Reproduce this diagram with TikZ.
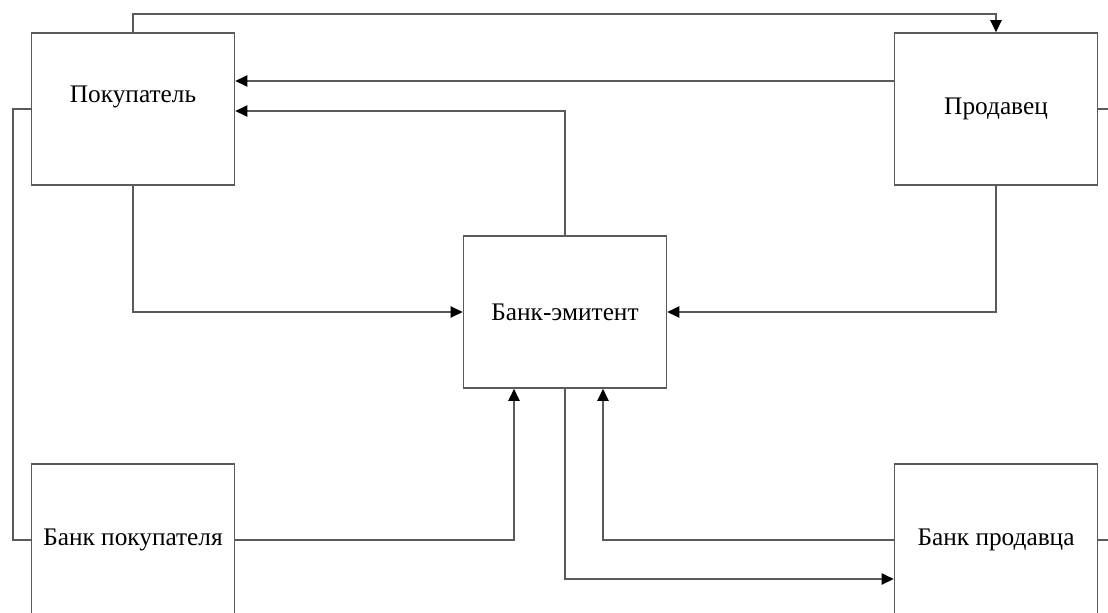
\documentclass[tikz,border=0pt]{standalone}
\usepackage{fontspec}
\setmainfont{Liberation Serif}
\usetikzlibrary{arrows.meta}
\definecolor{linegray}{RGB}{90,90,90}

\begin{document}
\begin{tikzpicture}[x=0.025cm,y=-0.025cm,
  box/.style={draw=linegray,line width=1.1pt,minimum width=5.075cm,minimum height=3.8cm,inner sep=0pt,font=\fontsize{18}{21}\selectfont},
  txt/.style={inner sep=0pt,font=\fontsize{18}{21}\selectfont},
  link/.style={draw=linegray,line width=1pt},
  arr/.style={link,-{Triangle[length=0.3cm,width=0.28cm,fill=black,color=black]}}]
  \useasboundingbox (0,0) rectangle (1108,612);
  \node[box] (buyer) at (133,109) {};
  \node[txt] (buyertxt) at (133,97) {Покупатель};
  \node[box] (seller) at (996,109) {Продавец};
  \node[box] (issuer) at (565,312) {Банк-эмитент};
  \node[box] (bbank) at (133,540) {Банк покупателя};
  \node[box] (sbank) at (996,540) {Банк продавца};
  \coordinate (top) at (0,14);
  \coordinate (r81) at (0,81);
  \coordinate (r111) at (0,111);
  \coordinate (r579) at (0,579);
  \coordinate (c13) at (13,0);
  \coordinate (c514) at (514,0);
  \coordinate (c603) at (603,0);
  \coordinate (redge) at (1108,0);
  \draw[arr] (buyer.north) -- (buyer.north |- top) -| (seller.north);
  \draw[arr] (seller.west |- r81) -- (buyer.east |- r81);
  \draw[arr] (issuer.north) |- (buyer.east |- r111);
  \draw[arr] (buyer.south) |- (issuer.west);
  \draw[arr] (seller.south) |- (issuer.east);
  \draw[arr] (bbank.east) -| (c514 |- issuer.south);
  \draw[arr] (sbank.west) -| (c603 |- issuer.south);
  \draw[arr] (issuer.south) |- (sbank.west |- r579);
  \draw[link] (buyer.west) -| (c13 |- bbank.west) -- (bbank.west);
  \draw[link] (seller.east) -- (redge |- seller.east);
  \draw[link] (sbank.east) -- (redge |- sbank.east);
\end{tikzpicture}
\end{document}
